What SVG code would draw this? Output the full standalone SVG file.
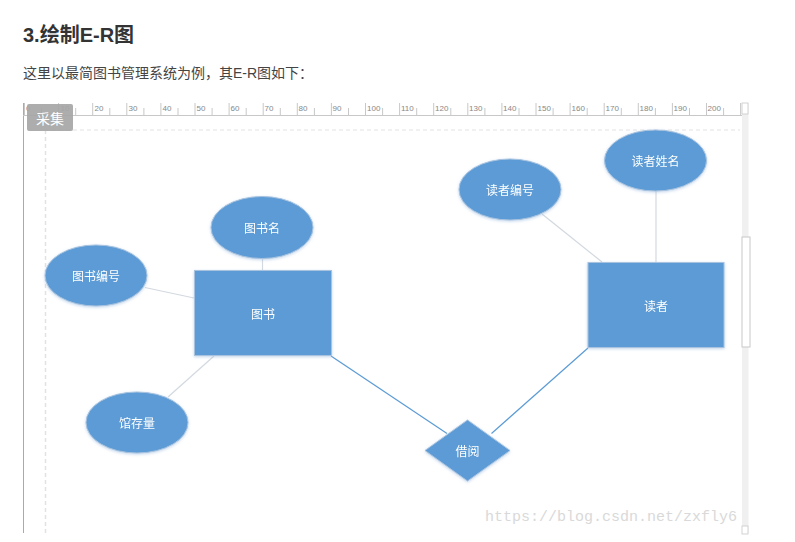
<svg xmlns="http://www.w3.org/2000/svg" width="795" height="542" viewBox="0 0 795 542">
<defs>
<style>
.ruler{stroke:#c8c8c8;stroke-width:1}
.rnum{font-family:"Liberation Sans",Arial,sans-serif;font-size:8px;fill:#888}
.ent{fill:#5b9bd5;stroke:#a9c3df;stroke-width:1}
.lbl{font-family:"Noto Sans CJK SC","Liberation Sans",sans-serif;font-size:12px;fill:#ffffff;text-anchor:middle;dominant-baseline:central}
.attr-line{stroke:#d3d9e0;stroke-width:1.2;fill:none}
.rel-line{stroke:#5b9bd5;stroke-width:1.2;fill:none}
</style>
<filter id="sh" x="-20%" y="-20%" width="140%" height="140%">
<feGaussianBlur in="SourceAlpha" stdDeviation="1.5"/>
<feOffset dx="0" dy="1" result="b"/>
<feFlood flood-color="#9bbbe0" flood-opacity="0.6"/>
<feComposite in2="b" operator="in"/>
<feMerge><feMergeNode/><feMergeNode in="SourceGraphic"/></feMerge>
</filter>
</defs>
<rect width="795" height="542" fill="#ffffff"/>

<g id="heading">
<text x="23" y="42" font-family="'Liberation Sans','Noto Sans CJK SC',sans-serif" font-size="20" font-weight="bold" fill="#333333">3.绘制E-R图</text>
<text x="23" y="78" font-family="'Liberation Sans','Noto Sans CJK SC',sans-serif" font-size="14" fill="#444444">这里以最简图书管理系统为例，其E-R图如下：</text>
</g>

<g id="canvas-frame">
<line x1="23.5" y1="103" x2="23.5" y2="533" stroke="#aaaaaa" stroke-width="1"/>
<line x1="23" y1="115.5" x2="742" y2="115.5" class="ruler"/>
<line x1="45.5" y1="130" x2="45.5" y2="533" stroke="#e2e2e2" stroke-width="1.5" stroke-dasharray="4,3"/>
<line x1="45" y1="130" x2="740" y2="130" stroke="#e2e2e2" stroke-width="1" stroke-dasharray="4,3"/>
<rect x="742" y="103" width="6.5" height="430" fill="#f0f0f0"/>
<rect x="742" y="103" width="6" height="11" fill="#ffffff" stroke="#c8c8c8" stroke-width="0.8"/>
<rect x="742" y="237" width="8" height="110" fill="#ffffff" stroke="#c8c8c8" stroke-width="1"/>
<rect x="742" y="526" width="6" height="8" fill="#ffffff" stroke="#c8c8c8" stroke-width="0.8"/>
</g>

<g id="ruler">
<g class="ruler">
<line x1="24.5" y1="103" x2="24.5" y2="115"/><line x1="41.6" y1="108" x2="41.6" y2="115"/>
<line x1="58.6" y1="103" x2="58.6" y2="115"/><line x1="75.7" y1="108" x2="75.7" y2="115"/>
<line x1="92.7" y1="103" x2="92.7" y2="115"/><line x1="109.8" y1="108" x2="109.8" y2="115"/>
<line x1="126.8" y1="103" x2="126.8" y2="115"/><line x1="143.9" y1="108" x2="143.9" y2="115"/>
<line x1="160.9" y1="103" x2="160.9" y2="115"/><line x1="178" y1="108" x2="178" y2="115"/>
<line x1="195" y1="103" x2="195" y2="115"/><line x1="212.1" y1="108" x2="212.1" y2="115"/>
<line x1="229.1" y1="103" x2="229.1" y2="115"/><line x1="246.2" y1="108" x2="246.2" y2="115"/>
<line x1="263.2" y1="103" x2="263.2" y2="115"/><line x1="280.3" y1="108" x2="280.3" y2="115"/>
<line x1="297.3" y1="103" x2="297.3" y2="115"/><line x1="314.4" y1="108" x2="314.4" y2="115"/>
<line x1="331.4" y1="103" x2="331.4" y2="115"/><line x1="348.5" y1="108" x2="348.5" y2="115"/>
<line x1="365.5" y1="103" x2="365.5" y2="115"/><line x1="382.6" y1="108" x2="382.6" y2="115"/>
<line x1="399.6" y1="103" x2="399.6" y2="115"/><line x1="416.7" y1="108" x2="416.7" y2="115"/>
<line x1="433.7" y1="103" x2="433.7" y2="115"/><line x1="450.8" y1="108" x2="450.8" y2="115"/>
<line x1="467.8" y1="103" x2="467.8" y2="115"/><line x1="484.9" y1="108" x2="484.9" y2="115"/>
<line x1="501.9" y1="103" x2="501.9" y2="115"/><line x1="519" y1="108" x2="519" y2="115"/>
<line x1="536" y1="103" x2="536" y2="115"/><line x1="553.1" y1="108" x2="553.1" y2="115"/>
<line x1="570.1" y1="103" x2="570.1" y2="115"/><line x1="587.2" y1="108" x2="587.2" y2="115"/>
<line x1="604.2" y1="103" x2="604.2" y2="115"/><line x1="621.3" y1="108" x2="621.3" y2="115"/>
<line x1="638.3" y1="103" x2="638.3" y2="115"/><line x1="655.4" y1="108" x2="655.4" y2="115"/>
<line x1="672.4" y1="103" x2="672.4" y2="115"/><line x1="689.5" y1="108" x2="689.5" y2="115"/>
<line x1="706.5" y1="103" x2="706.5" y2="115"/><line x1="723.6" y1="108" x2="723.6" y2="115"/>
<line x1="740.6" y1="103" x2="740.6" y2="115"/>
</g>
<text class="rnum" x="26" y="111">0</text>
<text class="rnum" x="60.5" y="111">10</text>
<text class="rnum" x="94.5" y="111">20</text>
<text class="rnum" x="128.5" y="111">30</text>
<text class="rnum" x="162.5" y="111">40</text>
<text class="rnum" x="196.5" y="111">50</text>
<text class="rnum" x="230.5" y="111">60</text>
<text class="rnum" x="264.5" y="111">70</text>
<text class="rnum" x="298.5" y="111">80</text>
<text class="rnum" x="332.5" y="111">90</text>
<text class="rnum" x="367" y="111">100</text>
<text class="rnum" x="401" y="111">110</text>
<text class="rnum" x="435" y="111">120</text>
<text class="rnum" x="469" y="111">130</text>
<text class="rnum" x="503" y="111">140</text>
<text class="rnum" x="537.5" y="111">150</text>
<text class="rnum" x="571.5" y="111">160</text>
<text class="rnum" x="605.5" y="111">170</text>
<text class="rnum" x="639.5" y="111">180</text>
<text class="rnum" x="673.5" y="111">190</text>
<text class="rnum" x="707.5" y="111">200</text>
</g>

<g id="collect-button">
<rect x="27" y="104" width="46" height="27" rx="2" fill="#a6a6a6" fill-opacity="0.92"/>
<text x="50" y="118" font-family="'Noto Sans CJK SC',sans-serif" font-size="14" fill="#ffffff" text-anchor="middle" dominant-baseline="central">采集</text>
</g>

<g id="connectors">
<line class="attr-line" x1="145" y1="287.5" x2="194" y2="298"/>
<line class="attr-line" x1="262.5" y1="258" x2="262.5" y2="270"/>
<line class="attr-line" x1="168" y1="397" x2="214" y2="356"/>
<line class="attr-line" x1="542" y1="214" x2="602" y2="262"/>
<line class="attr-line" x1="656" y1="191" x2="656" y2="262"/>
<line class="rel-line" x1="331" y1="356" x2="447" y2="433.5"/>
<line class="rel-line" x1="491.5" y1="433.5" x2="588" y2="348"/>
</g>

<g id="node-book-id" filter="url(#sh)">
<ellipse class="ent" cx="96" cy="275.5" rx="51" ry="30.5"/>
<text class="lbl" x="96" y="275.5">图书编号</text>
</g>
<g id="node-book-name" filter="url(#sh)">
<ellipse class="ent" cx="262" cy="227.5" rx="51" ry="31"/>
<text class="lbl" x="262" y="227.5">图书名</text>
</g>
<g id="node-book" filter="url(#sh)">
<rect class="ent" x="194.5" y="270.5" width="137" height="85"/>
<text class="lbl" x="263" y="313">图书</text>
</g>
<g id="node-stock" filter="url(#sh)">
<ellipse class="ent" cx="137" cy="422.5" rx="51" ry="30.5"/>
<text class="lbl" x="137" y="422.5">馆存量</text>
</g>
<g id="node-borrow" filter="url(#sh)">
<polygon class="ent" points="467.5,420 510,450.5 467.5,481 425,450.5"/>
<text class="lbl" x="467.5" y="450.5">借阅</text>
</g>
<g id="node-reader-id" filter="url(#sh)">
<ellipse class="ent" cx="510" cy="189.5" rx="51" ry="30.5"/>
<text class="lbl" x="510" y="189.5">读者编号</text>
</g>
<g id="node-reader-name" filter="url(#sh)">
<ellipse class="ent" cx="655.5" cy="160.5" rx="51" ry="30.5"/>
<text class="lbl" x="655.5" y="160.5">读者姓名</text>
</g>
<g id="node-reader" filter="url(#sh)">
<rect class="ent" x="588" y="262.5" width="136" height="85"/>
<text class="lbl" x="656" y="305">读者</text>
</g>

<g id="watermark">
<text x="485" y="521" font-family="'Liberation Mono','DejaVu Sans Mono',monospace" font-size="15" fill="#d9d9d9">https://blog.csdn.net/zxfly6</text>
</g>
</svg>
